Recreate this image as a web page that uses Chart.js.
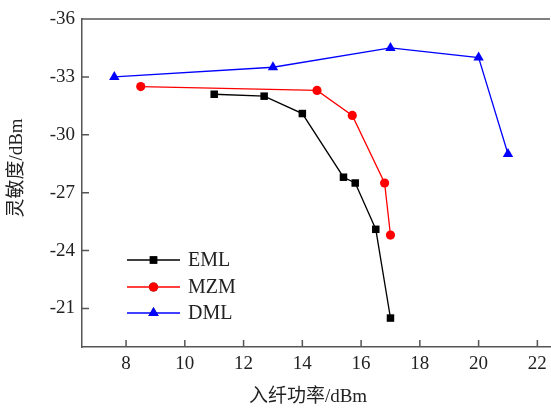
<!DOCTYPE html>
<html>
<head>
<meta charset="utf-8">
<script src="https://cdn.jsdelivr.net/npm/chart.js@4.4.0/dist/chart.umd.min.js"></script>
<style>
  html, body { margin: 0; padding: 0; background: #fff; overflow: hidden; }
  #wrap { width: 551px; height: 408px; overflow: hidden; }
</style>
</head>
<body>
<div id="wrap"><canvas id="chart" width="556" height="408"></canvas></div>
<script>
// launch power (dBm) and sensitivity (dBm)
const emlX = [11, 12.7, 14, 15.4, 15.8, 16.5, 17];
const emlY = [-32.1, -32, -31.1, -27.8, -27.5, -25.1, -20.5];
const mzmX = [8.5, 14.5, 15.7, 16.8, 17];
const mzmY = [-32.5, -32.3, -31, -27.5, -24.8];
const dmlX = [7.6, 13, 17, 20, 21];
const dmlY = [-33, -33.5, -34.5, -34, -29];
const xTicks = [8, 10, 12, 14, 16, 18, 20, 22];
const yTicks = [-36, -33, -30, -27, -24, -21];

const serif = '"Liberation Serif", "Times New Roman", "Noto Sans CJK SC", serif';
const axisColor = '#555';

function pts(xs, ys) {
    return xs.map(function (x, i) { return { x: x, y: ys[i] }; });
}

// inward ticks, top frame line, axis titles and the inset legend
const decorations = {
    id: 'decorations',
    afterDraw: function (chart) {
        const ctx = chart.ctx;
        const area = chart.chartArea;
        const xs = chart.scales.x;
        const ys = chart.scales.y;
        ctx.save();
        ctx.strokeStyle = axisColor;
        ctx.lineWidth = 1.5;
        ctx.beginPath();
        ctx.moveTo(area.left, area.top);
        ctx.lineTo(area.right, area.top);
        xTicks.forEach(function (t) {
            const px = xs.getPixelForValue(t);
            ctx.moveTo(px, area.bottom);
            ctx.lineTo(px, area.bottom - 7);
        });
        yTicks.forEach(function (t) {
            const py = ys.getPixelForValue(t);
            ctx.moveTo(area.left, py);
            ctx.lineTo(area.left + 7, py);
        });
        ctx.stroke();

        ctx.fillStyle = '#222';
        ctx.font = '19px ' + serif;
        ctx.textAlign = 'center';
        ctx.textBaseline = 'middle';
        ctx.fillText('入纤功率/dBm', 308, 397);
        ctx.save();
        ctx.translate(17, 168);
        ctx.rotate(-Math.PI / 2);
        ctx.fillText('灵敏度/dBm', 0, 0);
        ctx.restore();

        // legend
        ctx.font = '20px ' + serif;
        ctx.textAlign = 'left';
        const rows = [260, 287, 313];
        chart.data.datasets.forEach(function (ds, i) {
            const y = rows[i];
            ctx.strokeStyle = ds.borderColor;
            ctx.lineWidth = 1.3;
            ctx.beginPath();
            ctx.moveTo(127, y);
            ctx.lineTo(180, y);
            ctx.stroke();
            Chart.helpers.drawPoint(ctx, {
                pointStyle: ds.pointStyle,
                radius: ds.pointRadius,
                rotation: 0,
                borderWidth: 0
            }, 153.5, y);
            ctx.fillStyle = ds.pointBackgroundColor;
            ctx.fill();
            ctx.fillStyle = '#222';
            ctx.fillText(ds.label, 188, y + 1);
        });
        ctx.restore();
    }
};

function series(label, xs, ys, color, style, radius) {
    return {
        label: label,
        data: pts(xs, ys),
        borderColor: color,
        backgroundColor: color,
        pointBackgroundColor: color,
        pointBorderColor: color,
        pointBorderWidth: 0,
        pointStyle: style,
        pointRadius: radius,
        borderWidth: 1.3,
        tension: 0,
        fill: false
    };
}

new Chart(document.getElementById('chart'), {
    type: 'line',
    data: {
        datasets: [
            series('EML', emlX, emlY, '#000000', 'rect', 5.3),
            series('MZM', mzmX, mzmY, '#ff0000', 'circle', 4.6),
            series('DML', dmlX, dmlY, '#0000ff', 'triangle', 6)
        ]
    },
    options: {
        responsive: false,
        animation: false,
        layout: { padding: { top: 19, right: 0, left: 0, bottom: 0 } },
        plugins: { legend: { display: false }, tooltip: { enabled: false } },
        scales: {
            x: {
                type: 'linear',
                min: 6.5,
                max: 22.43,
                afterBuildTicks: function (scale) {
                    scale.ticks = xTicks.map(function (v) { return { value: v }; });
                },
                afterFit: function (scale) { scale.height = 61; },
                grid: { display: false, drawTicks: false },
                border: { display: true, color: axisColor, width: 1.5 },
                ticks: {
                    color: '#222',
                    padding: 6,
                    maxRotation: 0,
                    font: { family: serif, size: 19 }
                }
            },
            y: {
                type: 'linear',
                reverse: true,
                min: -36,
                max: -19,
                afterBuildTicks: function (scale) {
                    scale.ticks = yTicks.map(function (v) { return { value: v }; });
                },
                afterFit: function (scale) { scale.width = 82; },
                grid: { display: false, drawTicks: false },
                border: { display: true, color: axisColor, width: 1.5 },
                ticks: {
                    color: '#222',
                    padding: 7,
                    font: { family: serif, size: 19 }
                }
            }
        }
    },
    plugins: [decorations]
});
</script>
</body>
</html>
